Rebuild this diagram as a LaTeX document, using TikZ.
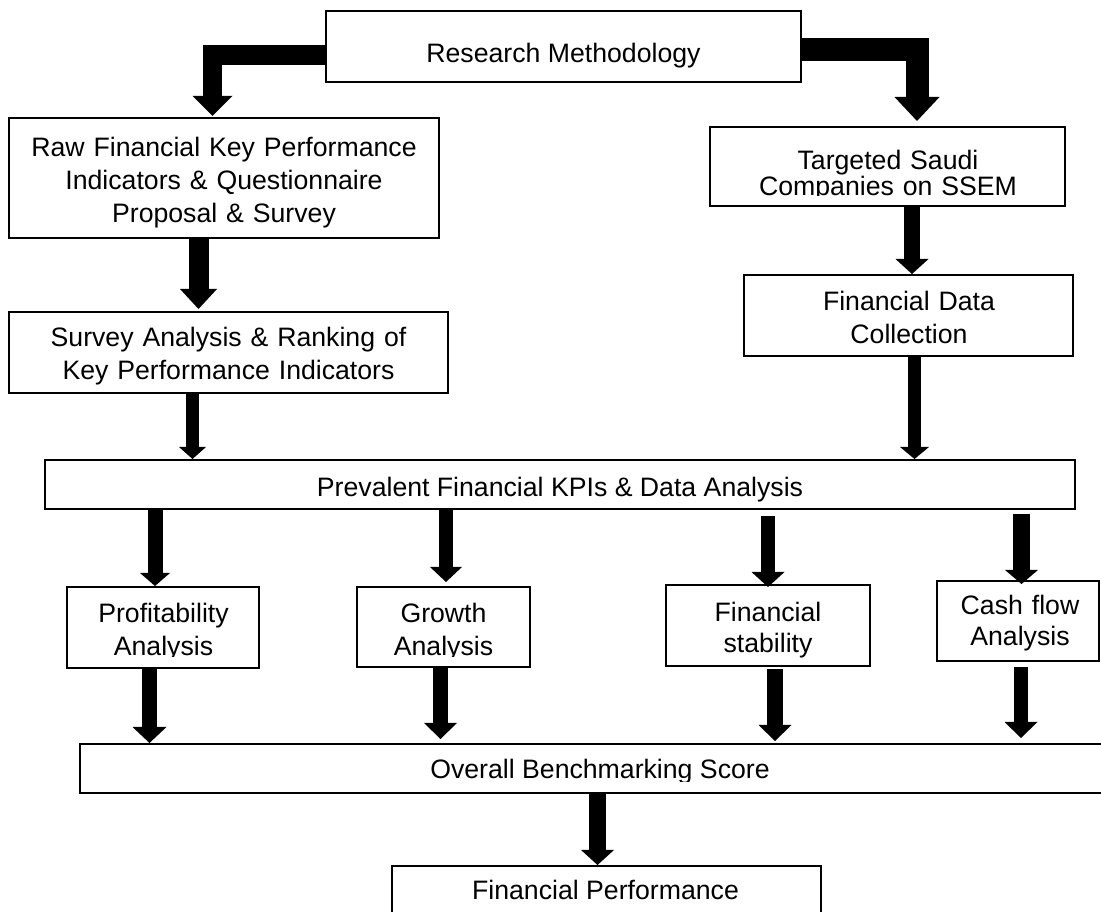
\documentclass[tikz,border=0pt]{standalone}
\usepackage{fontspec}
\setmainfont{Liberation Sans}
\usetikzlibrary{arrows.meta,calc,fit}
\begin{document}
\begin{tikzpicture}[x=0.75pt,y=-0.75pt,
  box/.style={draw=black, line width=1.5pt, inner sep=0pt},
  lbl/.style={inner sep=0pt, anchor=base, font=\fontsize{20}{24.75}\selectfont},
  mlbl/.style={lbl, align=center, text width=330pt},
  ba/.style n args={3}{draw=black, line width=#1, line join=miter,
     -{Triangle[width=#2,length=#3,line width=0pt]}}
]
\fill[white] (0,0) rectangle (1101,912);
\useasboundingbox (0,0) rectangle (1101,912);

% boxes
\node[box, fit={(326,11) (801,82)}] (rm) {};
\node[box, fit={(9,118) (439,238)}] (raw) {};
\node[box, fit={(710,127) (1065,206)}] (targ) {};
\node[box, fit={(9,312) (448,393)}] (surv) {};
\node[box, fit={(744,275) (1073,356)}] (fd) {};
\node[box, fit={(45,460) (1075,509)}] (prev) {};
\node[box, fit={(67,587) (259,668)}] (prof) {};
\node[box, fit={(357,587) (530,667)}] (grow) {};
\node[box, fit={(666,585) (870,666)}] (stab) {};
\node[box, fit={(937,581) (1099,661)}] (cash) {};
\node[box, fit={(80,744) (1120,793)}] (over) {};
\node[box, fit={(392,866) (821,950)}] (perf) {};

% labels
\node[lbl] (rm-t) at (563.5,63) {Research Methodology};
\node[mlbl] (raw-t) at (224,157) {Raw Financial Key Performance\\Indicators \& Questionnaire\\Proposal \& Survey};
\begin{scope}
  \clip (712,130) rectangle (1063,196);
  \node[mlbl, font=\fontsize{20}{19.5}\selectfont] (targ-t) at (888,169.5) {Targeted Saudi\\Companies on SSEM};
\end{scope}
\node[mlbl] (surv-t) at (228.5,347) {Survey Analysis \& Ranking of\\Key Performance Indicators};
\node[mlbl] (fd-t) at (909,311) {Financial Data\\Collection};
\node[lbl] (prev-t) at (560,497) {Prevalent Financial KPIs \& Data Analysis};
\begin{scope}
  \clip (69,590) rectangle (257,657);
  \node[mlbl] (prof-t) at (163.5,623) {Profitability\\Analysis};
\end{scope}
\begin{scope}
  \clip (359,590) rectangle (528,657);
  \node[mlbl] (grow-t) at (443.5,623) {Growth\\Analysis};
\end{scope}
\node[mlbl, font=\fontsize{20}{22.9}\selectfont] (stab-t) at (768,621.5) {Financial\\stability};
\node[mlbl, font=\fontsize{20}{23.25}\selectfont] (cash-t) at (1020,615) {Cash flow\\Analysis};
\begin{scope}
  \clip (82,746) rectangle (1101,782);
  \node[lbl] (over-t) at (600,779) {Overall Benchmarking Score};
\end{scope}
\node[lbl] (perf-t) at (605.5,900) {Financial Performance};

% block arrows
\draw[ba={14.6pt}{30pt}{15pt}] (rm.west |- 0,55) -| ($(raw.north -| 212.5,0)+(0,-1)$);
\draw[ba={17.25pt}{33.75pt}{18pt}] (rm.east |- 0,50) -| ($(targ.north -| 917,0)+(0,-5)$);
\draw[ba={15pt}{27.75pt}{15pt}] (raw.south -| 198.5,0) -- ($(surv.north -| 198.5,0)+(0,-2)$);
\draw[ba={9.75pt}{20.25pt}{9pt}] (surv.south -| 192.5,0) -- (prev.north -| 192.5,0);
\draw[ba={12pt}{24.75pt}{11.25pt}] (targ.south -| 912,0) -- (fd.north -| 912,0);
\draw[ba={9.75pt}{21.75pt}{9pt}] (fd.south -| 914.5,0) -- (prev.north -| 914.5,0);
\draw[ba={11.25pt}{22.5pt}{9.75pt}] (prev.south -| 155,0) -- (prof.north -| 155,0);
\draw[ba={10.5pt}{24pt}{11.25pt}] (prev.south -| 446,0) -- ($(grow.north -| 446,0)+(0,-4)$);
\draw[ba={10.5pt}{24.75pt}{11.25pt}] ($(prev.south -| 768,0)+(0,6)$) -- ($(stab.north -| 768,0)+(0,3)$);
\draw[ba={12.75pt}{24.75pt}{10.5pt}] ($(prev.south -| 1021.5,0)+(0,4)$) -- ($(cash.north -| 1021.5,0)+(0,4)$);
\draw[ba={11.25pt}{25.5pt}{12pt}] (prof.south -| 149.5,0) -- (over.north -| 149.5,0);
\draw[ba={11.25pt}{24.75pt}{12pt}] (grow.south -| 440.5,0) -- ($(over.north -| 440.5,0)+(0,-4)$);
\draw[ba={12pt}{24.75pt}{12pt}] ($(stab.south -| 775,0)+(0,2)$) -- ($(over.north -| 775,0)+(0,-2)$);
\draw[ba={10.5pt}{24.75pt}{12pt}] ($(cash.south -| 1021,0)+(0,5)$) -- ($(over.north -| 1021,0)+(0,-5)$);
\draw[ba={12.75pt}{24.75pt}{11.25pt}] (over.south -| 597.5,0) -- (perf.north -| 597.5,0);
\end{tikzpicture}
\end{document}
